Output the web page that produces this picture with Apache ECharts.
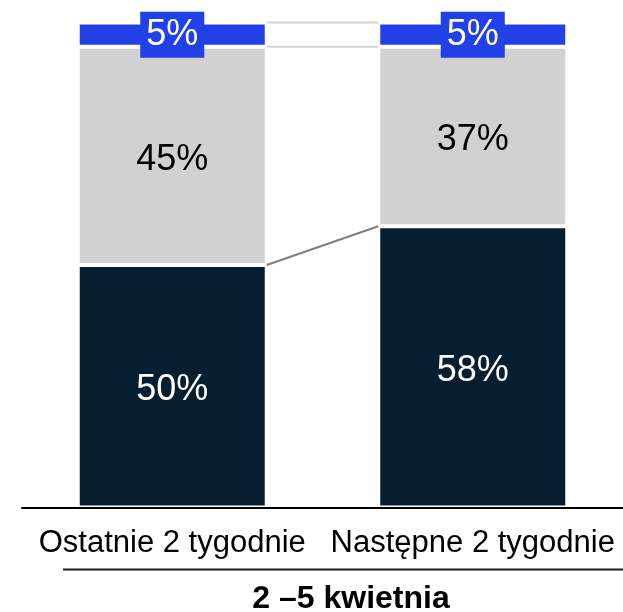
<!DOCTYPE html>
<html>
<head>
<meta charset="utf-8">
<script src="https://cdn.jsdelivr.net/npm/echarts@6/dist/echarts.min.js"></script>
<style>
html,body{margin:0;padding:0;background:#fff;}
#main{width:623px;height:612px;}
</style>
</head>
<body>
<div id="main"></div>
<script>
const categories = ['Ostatnie 2 tygodnie', 'Następne 2 tygodnie'];
const darkValues = [50, 58];
const grayValues = [45, 37];
const blueValues = [5, 5];
const groupLabel = '2 –5 kwietnia';

const FONT = '"Liberation Sans", Arial, sans-serif';
const BAR_W = 189;
const chart = echarts.init(document.getElementById('main'));

function seg(name, data, color, labelColor, extraLabel) {
  return {
    name: name, type: 'bar', stack: 'total', data: data, barWidth: BAR_W,
    itemStyle: { color: color, borderColor: '#ffffff', borderWidth: 2 },
    label: Object.assign({
      show: true, position: 'inside', formatter: '{c}%',
      color: labelColor, fontSize: 36, fontFamily: FONT, offset: [0, 4]
    }, extraLabel || {}),
    emphasis: { disabled: true },
    animation: false
  };
}

chart.setOption({
  animation: false,
  grid: { left: 22, right: -2, top: 22.5, bottom: 104.5, containLabel: false },
  xAxis: {
    type: 'category', data: categories, z: 10,
    axisLine: { show: true, lineStyle: { color: '#000', width: 2 } },
    axisTick: { show: false },
    axisLabel: { fontSize: 31, color: '#000', fontFamily: FONT, margin: 20, interval: 0 }
  },
  yAxis: {
    type: 'value', min: 0, max: 100, interval: 20, show: false,
    splitLine: { show: false }
  },
  series: [
    seg('dark', darkValues, '#061e2f', '#ffffff'),
    seg('gray', grayValues, '#d1d1d1', '#000000'),
    seg('blue', blueValues, '#2141e6', '#ffffff', {
      backgroundColor: '#2141e6', padding: [6, 6, 4, 6], lineHeight: 36, offset: [0, 0]
    })
  ]
});

function px(ci, v) { return chart.convertToPixel({ gridIndex: 0 }, [ci, v]); }
const half = BAR_W / 2 - 1;
const elements = [];
function connector(v0, v1, color) {
  const a = px(0, v0), b = px(1, v1);
  elements.push({
    type: 'line', z: 20,
    shape: { x1: a[0] + half + 1, y1: a[1], x2: b[0] - half - 1, y2: b[1] },
    style: { stroke: color, lineWidth: 2 }
  });
}
connector(darkValues[0], darkValues[1], '#7f7f7f');
connector(darkValues[0] + grayValues[0], darkValues[1] + grayValues[1], '#d4d4d4');
connector(darkValues[0] + grayValues[0] + blueValues[0], darkValues[1] + grayValues[1] + blueValues[1], '#d4d4d4');

elements.push({
  type: 'line', z: 20,
  shape: { x1: 63, y1: 569.5, x2: 623, y2: 569.5 },
  style: { stroke: '#1a1a1a', lineWidth: 2 }
});
elements.push({
  type: 'text', z: 20, x: 351, y: 599,
  style: {
    text: groupLabel, fontSize: 32, fontWeight: 'bold', fontFamily: FONT,
    fill: '#000', align: 'center', verticalAlign: 'middle'
  }
});
chart.setOption({ graphic: { elements: elements } });
</script>
</body>
</html>
